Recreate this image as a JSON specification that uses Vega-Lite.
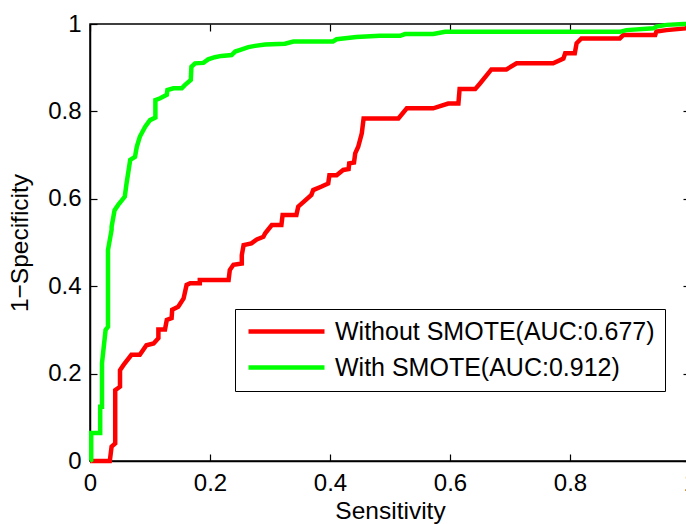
{
  "$schema": "https://vega.github.io/schema/vega-lite/v6.json",
  "width": 600,
  "height": 437,
  "autosize": {"type": "none"},
  "padding": {"left": 90, "top": 24, "right": 0, "bottom": 63},
  "background": "white",
  "config": {
    "font": "Liberation Sans",
    "view": {"stroke": "black", "strokeWidth": 1.5},
    "axis": {
      "grid": false,
      "domainColor": "black",
      "domainWidth": 1.5,
      "tickColor": "black",
      "tickWidth": 1.2,
      "tickSize": -7,
      "labelFlush": false,
      "labelOverlap": false,
      "labelColor": "black",
      "titleColor": "black",
      "labelFont": "Liberation Sans",
      "titleFont": "Liberation Sans",
      "labelFontSize": 24,
      "titleFontSize": 24.5,
      "titleFontWeight": "normal"
    }
  },
  "datasets": {
    "roc": [
      {"series": "Without SMOTE(AUC:0.677)", "i": 1, "x": 0, "y": 0},
      {"series": "Without SMOTE(AUC:0.677)", "i": 2, "x": 0.033, "y": 0},
      {"series": "Without SMOTE(AUC:0.677)", "i": 3, "x": 0.036, "y": 0.033},
      {"series": "Without SMOTE(AUC:0.677)", "i": 4, "x": 0.042, "y": 0.04},
      {"series": "Without SMOTE(AUC:0.677)", "i": 5, "x": 0.042, "y": 0.162},
      {"series": "Without SMOTE(AUC:0.677)", "i": 6, "x": 0.05, "y": 0.17},
      {"series": "Without SMOTE(AUC:0.677)", "i": 7, "x": 0.05, "y": 0.208},
      {"series": "Without SMOTE(AUC:0.677)", "i": 8, "x": 0.056, "y": 0.22},
      {"series": "Without SMOTE(AUC:0.677)", "i": 9, "x": 0.069, "y": 0.243},
      {"series": "Without SMOTE(AUC:0.677)", "i": 10, "x": 0.083, "y": 0.243},
      {"series": "Without SMOTE(AUC:0.677)", "i": 11, "x": 0.094, "y": 0.265},
      {"series": "Without SMOTE(AUC:0.677)", "i": 12, "x": 0.106, "y": 0.269},
      {"series": "Without SMOTE(AUC:0.677)", "i": 13, "x": 0.114, "y": 0.281},
      {"series": "Without SMOTE(AUC:0.677)", "i": 14, "x": 0.114, "y": 0.301},
      {"series": "Without SMOTE(AUC:0.677)", "i": 15, "x": 0.125, "y": 0.301},
      {"series": "Without SMOTE(AUC:0.677)", "i": 16, "x": 0.128, "y": 0.323},
      {"series": "Without SMOTE(AUC:0.677)", "i": 17, "x": 0.136, "y": 0.327},
      {"series": "Without SMOTE(AUC:0.677)", "i": 18, "x": 0.137, "y": 0.346},
      {"series": "Without SMOTE(AUC:0.677)", "i": 19, "x": 0.147, "y": 0.353},
      {"series": "Without SMOTE(AUC:0.677)", "i": 20, "x": 0.156, "y": 0.372},
      {"series": "Without SMOTE(AUC:0.677)", "i": 21, "x": 0.161, "y": 0.403},
      {"series": "Without SMOTE(AUC:0.677)", "i": 22, "x": 0.167, "y": 0.407},
      {"series": "Without SMOTE(AUC:0.677)", "i": 23, "x": 0.183, "y": 0.407},
      {"series": "Without SMOTE(AUC:0.677)", "i": 24, "x": 0.183, "y": 0.414},
      {"series": "Without SMOTE(AUC:0.677)", "i": 25, "x": 0.231, "y": 0.414},
      {"series": "Without SMOTE(AUC:0.677)", "i": 26, "x": 0.233, "y": 0.437},
      {"series": "Without SMOTE(AUC:0.677)", "i": 27, "x": 0.239, "y": 0.449},
      {"series": "Without SMOTE(AUC:0.677)", "i": 28, "x": 0.253, "y": 0.452},
      {"series": "Without SMOTE(AUC:0.677)", "i": 29, "x": 0.253, "y": 0.471},
      {"series": "Without SMOTE(AUC:0.677)", "i": 30, "x": 0.256, "y": 0.494},
      {"series": "Without SMOTE(AUC:0.677)", "i": 31, "x": 0.269, "y": 0.498},
      {"series": "Without SMOTE(AUC:0.677)", "i": 32, "x": 0.278, "y": 0.507},
      {"series": "Without SMOTE(AUC:0.677)", "i": 33, "x": 0.289, "y": 0.513},
      {"series": "Without SMOTE(AUC:0.677)", "i": 34, "x": 0.292, "y": 0.521},
      {"series": "Without SMOTE(AUC:0.677)", "i": 35, "x": 0.303, "y": 0.54},
      {"series": "Without SMOTE(AUC:0.677)", "i": 36, "x": 0.319, "y": 0.54},
      {"series": "Without SMOTE(AUC:0.677)", "i": 37, "x": 0.321, "y": 0.563},
      {"series": "Without SMOTE(AUC:0.677)", "i": 38, "x": 0.344, "y": 0.563},
      {"series": "Without SMOTE(AUC:0.677)", "i": 39, "x": 0.347, "y": 0.582},
      {"series": "Without SMOTE(AUC:0.677)", "i": 40, "x": 0.356, "y": 0.593},
      {"series": "Without SMOTE(AUC:0.677)", "i": 41, "x": 0.369, "y": 0.609},
      {"series": "Without SMOTE(AUC:0.677)", "i": 42, "x": 0.372, "y": 0.62},
      {"series": "Without SMOTE(AUC:0.677)", "i": 43, "x": 0.386, "y": 0.628},
      {"series": "Without SMOTE(AUC:0.677)", "i": 44, "x": 0.397, "y": 0.635},
      {"series": "Without SMOTE(AUC:0.677)", "i": 45, "x": 0.399, "y": 0.654},
      {"series": "Without SMOTE(AUC:0.677)", "i": 46, "x": 0.411, "y": 0.654},
      {"series": "Without SMOTE(AUC:0.677)", "i": 47, "x": 0.422, "y": 0.666},
      {"series": "Without SMOTE(AUC:0.677)", "i": 48, "x": 0.431, "y": 0.668},
      {"series": "Without SMOTE(AUC:0.677)", "i": 49, "x": 0.432, "y": 0.681},
      {"series": "Without SMOTE(AUC:0.677)", "i": 50, "x": 0.44, "y": 0.683},
      {"series": "Without SMOTE(AUC:0.677)", "i": 51, "x": 0.442, "y": 0.704},
      {"series": "Without SMOTE(AUC:0.677)", "i": 52, "x": 0.447, "y": 0.719},
      {"series": "Without SMOTE(AUC:0.677)", "i": 53, "x": 0.453, "y": 0.75},
      {"series": "Without SMOTE(AUC:0.677)", "i": 54, "x": 0.456, "y": 0.784},
      {"series": "Without SMOTE(AUC:0.677)", "i": 55, "x": 0.514, "y": 0.784},
      {"series": "Without SMOTE(AUC:0.677)", "i": 56, "x": 0.528, "y": 0.807},
      {"series": "Without SMOTE(AUC:0.677)", "i": 57, "x": 0.572, "y": 0.807},
      {"series": "Without SMOTE(AUC:0.677)", "i": 58, "x": 0.597, "y": 0.818},
      {"series": "Without SMOTE(AUC:0.677)", "i": 59, "x": 0.614, "y": 0.818},
      {"series": "Without SMOTE(AUC:0.677)", "i": 60, "x": 0.616, "y": 0.851},
      {"series": "Without SMOTE(AUC:0.677)", "i": 61, "x": 0.642, "y": 0.851},
      {"series": "Without SMOTE(AUC:0.677)", "i": 62, "x": 0.65, "y": 0.864},
      {"series": "Without SMOTE(AUC:0.677)", "i": 63, "x": 0.669, "y": 0.896},
      {"series": "Without SMOTE(AUC:0.677)", "i": 64, "x": 0.694, "y": 0.896},
      {"series": "Without SMOTE(AUC:0.677)", "i": 65, "x": 0.711, "y": 0.91},
      {"series": "Without SMOTE(AUC:0.677)", "i": 66, "x": 0.772, "y": 0.91},
      {"series": "Without SMOTE(AUC:0.677)", "i": 67, "x": 0.789, "y": 0.921},
      {"series": "Without SMOTE(AUC:0.677)", "i": 68, "x": 0.792, "y": 0.933},
      {"series": "Without SMOTE(AUC:0.677)", "i": 69, "x": 0.808, "y": 0.933},
      {"series": "Without SMOTE(AUC:0.677)", "i": 70, "x": 0.811, "y": 0.956},
      {"series": "Without SMOTE(AUC:0.677)", "i": 71, "x": 0.819, "y": 0.967},
      {"series": "Without SMOTE(AUC:0.677)", "i": 72, "x": 0.883, "y": 0.967},
      {"series": "Without SMOTE(AUC:0.677)", "i": 73, "x": 0.889, "y": 0.975},
      {"series": "Without SMOTE(AUC:0.677)", "i": 74, "x": 0.942, "y": 0.975},
      {"series": "Without SMOTE(AUC:0.677)", "i": 75, "x": 0.944, "y": 0.983},
      {"series": "Without SMOTE(AUC:0.677)", "i": 76, "x": 0.961, "y": 0.986},
      {"series": "Without SMOTE(AUC:0.677)", "i": 77, "x": 0.993, "y": 0.99},
      {"series": "Without SMOTE(AUC:0.677)", "i": 78, "x": 1, "y": 1},
      {"series": "With SMOTE(AUC:0.912)", "i": 1, "x": 0, "y": 0},
      {"series": "With SMOTE(AUC:0.912)", "i": 2, "x": 0.002, "y": 0.002},
      {"series": "With SMOTE(AUC:0.912)", "i": 3, "x": 0.002, "y": 0.064},
      {"series": "With SMOTE(AUC:0.912)", "i": 4, "x": 0.017, "y": 0.064},
      {"series": "With SMOTE(AUC:0.912)", "i": 5, "x": 0.017, "y": 0.124},
      {"series": "With SMOTE(AUC:0.912)", "i": 6, "x": 0.02, "y": 0.124},
      {"series": "With SMOTE(AUC:0.912)", "i": 7, "x": 0.02, "y": 0.224},
      {"series": "With SMOTE(AUC:0.912)", "i": 8, "x": 0.026, "y": 0.3},
      {"series": "With SMOTE(AUC:0.912)", "i": 9, "x": 0.03, "y": 0.307},
      {"series": "With SMOTE(AUC:0.912)", "i": 10, "x": 0.03, "y": 0.483},
      {"series": "With SMOTE(AUC:0.912)", "i": 11, "x": 0.036, "y": 0.529},
      {"series": "With SMOTE(AUC:0.912)", "i": 12, "x": 0.036, "y": 0.536},
      {"series": "With SMOTE(AUC:0.912)", "i": 13, "x": 0.041, "y": 0.574},
      {"series": "With SMOTE(AUC:0.912)", "i": 14, "x": 0.047, "y": 0.586},
      {"series": "With SMOTE(AUC:0.912)", "i": 15, "x": 0.058, "y": 0.605},
      {"series": "With SMOTE(AUC:0.912)", "i": 16, "x": 0.061, "y": 0.636},
      {"series": "With SMOTE(AUC:0.912)", "i": 17, "x": 0.064, "y": 0.662},
      {"series": "With SMOTE(AUC:0.912)", "i": 18, "x": 0.067, "y": 0.689},
      {"series": "With SMOTE(AUC:0.912)", "i": 19, "x": 0.075, "y": 0.696},
      {"series": "With SMOTE(AUC:0.912)", "i": 20, "x": 0.078, "y": 0.719},
      {"series": "With SMOTE(AUC:0.912)", "i": 21, "x": 0.083, "y": 0.742},
      {"series": "With SMOTE(AUC:0.912)", "i": 22, "x": 0.092, "y": 0.765},
      {"series": "With SMOTE(AUC:0.912)", "i": 23, "x": 0.1, "y": 0.78},
      {"series": "With SMOTE(AUC:0.912)", "i": 24, "x": 0.109, "y": 0.786},
      {"series": "With SMOTE(AUC:0.912)", "i": 25, "x": 0.109, "y": 0.826},
      {"series": "With SMOTE(AUC:0.912)", "i": 26, "x": 0.117, "y": 0.83},
      {"series": "With SMOTE(AUC:0.912)", "i": 27, "x": 0.128, "y": 0.838},
      {"series": "With SMOTE(AUC:0.912)", "i": 28, "x": 0.129, "y": 0.849},
      {"series": "With SMOTE(AUC:0.912)", "i": 29, "x": 0.139, "y": 0.853},
      {"series": "With SMOTE(AUC:0.912)", "i": 30, "x": 0.153, "y": 0.853},
      {"series": "With SMOTE(AUC:0.912)", "i": 31, "x": 0.158, "y": 0.86},
      {"series": "With SMOTE(AUC:0.912)", "i": 32, "x": 0.168, "y": 0.872},
      {"series": "With SMOTE(AUC:0.912)", "i": 33, "x": 0.169, "y": 0.902},
      {"series": "With SMOTE(AUC:0.912)", "i": 34, "x": 0.175, "y": 0.91},
      {"series": "With SMOTE(AUC:0.912)", "i": 35, "x": 0.189, "y": 0.911},
      {"series": "With SMOTE(AUC:0.912)", "i": 36, "x": 0.197, "y": 0.919},
      {"series": "With SMOTE(AUC:0.912)", "i": 37, "x": 0.208, "y": 0.924},
      {"series": "With SMOTE(AUC:0.912)", "i": 38, "x": 0.219, "y": 0.927},
      {"series": "With SMOTE(AUC:0.912)", "i": 39, "x": 0.236, "y": 0.929},
      {"series": "With SMOTE(AUC:0.912)", "i": 40, "x": 0.242, "y": 0.937},
      {"series": "With SMOTE(AUC:0.912)", "i": 41, "x": 0.253, "y": 0.942},
      {"series": "With SMOTE(AUC:0.912)", "i": 42, "x": 0.264, "y": 0.947},
      {"series": "With SMOTE(AUC:0.912)", "i": 43, "x": 0.275, "y": 0.95},
      {"series": "With SMOTE(AUC:0.912)", "i": 44, "x": 0.292, "y": 0.953},
      {"series": "With SMOTE(AUC:0.912)", "i": 45, "x": 0.325, "y": 0.955},
      {"series": "With SMOTE(AUC:0.912)", "i": 46, "x": 0.339, "y": 0.96},
      {"series": "With SMOTE(AUC:0.912)", "i": 47, "x": 0.405, "y": 0.96},
      {"series": "With SMOTE(AUC:0.912)", "i": 48, "x": 0.411, "y": 0.965},
      {"series": "With SMOTE(AUC:0.912)", "i": 49, "x": 0.444, "y": 0.97},
      {"series": "With SMOTE(AUC:0.912)", "i": 50, "x": 0.483, "y": 0.973},
      {"series": "With SMOTE(AUC:0.912)", "i": 51, "x": 0.517, "y": 0.973},
      {"series": "With SMOTE(AUC:0.912)", "i": 52, "x": 0.525, "y": 0.977},
      {"series": "With SMOTE(AUC:0.912)", "i": 53, "x": 0.572, "y": 0.977},
      {"series": "With SMOTE(AUC:0.912)", "i": 54, "x": 0.592, "y": 0.982},
      {"series": "With SMOTE(AUC:0.912)", "i": 55, "x": 0.883, "y": 0.982},
      {"series": "With SMOTE(AUC:0.912)", "i": 56, "x": 0.894, "y": 0.986},
      {"series": "With SMOTE(AUC:0.912)", "i": 57, "x": 0.939, "y": 0.99},
      {"series": "With SMOTE(AUC:0.912)", "i": 58, "x": 0.944, "y": 0.994},
      {"series": "With SMOTE(AUC:0.912)", "i": 59, "x": 0.961, "y": 0.998},
      {"series": "With SMOTE(AUC:0.912)", "i": 60, "x": 0.99, "y": 1},
      {"series": "With SMOTE(AUC:0.912)", "i": 61, "x": 1, "y": 1}
    ]
  },
  "data": {"name": "roc"},
  "layer": [
    {
      "mark": {"type": "line", "strokeWidth": 4.5, "strokeJoin": "miter"},
      "encoding": {
        "x": {
          "field": "x", "type": "quantitative",
          "scale": {"domain": [0, 1], "nice": false, "zero": false},
          "axis": {"orient": "bottom", "values": [0, 0.2, 0.4, 0.6, 0.8, 1], "format": "~g", "title": "Sensitivity", "labelPadding": 17, "titlePadding": 4}
        },
        "y": {
          "field": "y", "type": "quantitative",
          "scale": {"domain": [0, 1], "nice": false, "zero": false},
          "axis": {"orient": "left", "values": [0, 0.2, 0.4, 0.6, 0.8, 1], "format": "~g", "title": "1−Specificity", "labelPadding": 16, "titlePadding": 15}
        },
        "color": {
          "field": "series", "type": "nominal",
          "scale": {"domain": ["Without SMOTE(AUC:0.677)", "With SMOTE(AUC:0.912)"], "range": ["#ff0000", "#00ff00"]},
          "legend": {
            "title": null,
            "orient": "none",
            "legendX": 145,
            "legendY": 285,
            "strokeColor": "black",
            "fillColor": "white",
            "padding": 10,
            "symbolType": "M-0.9,0H6.7",
            "symbolSize": 400,
            "symbolStrokeWidth": 4.5,
            "labelFontSize": 25,
            "labelFont": "Liberation Sans",
            "labelColor": "black",
            "labelLimit": 500,
            "labelOffset": 65,
            "rowPadding": 10
          }
        },
        "order": {"field": "i", "type": "quantitative"}
      }
    },
    {
      "mark": {"type": "point", "opacity": 0},
      "encoding": {
        "x": {
          "field": "x", "type": "quantitative",
          "axis": {"orient": "top", "values": [0, 0.2, 0.4, 0.6, 0.8, 1], "labels": false, "title": null, "domain": false}
        },
        "y": {
          "field": "y", "type": "quantitative",
          "axis": {"orient": "right", "values": [0, 0.2, 0.4, 0.6, 0.8, 1], "labels": false, "title": null, "domain": false}
        }
      }
    }
  ],
  "resolve": {"axis": {"x": "independent", "y": "independent"}}
}
